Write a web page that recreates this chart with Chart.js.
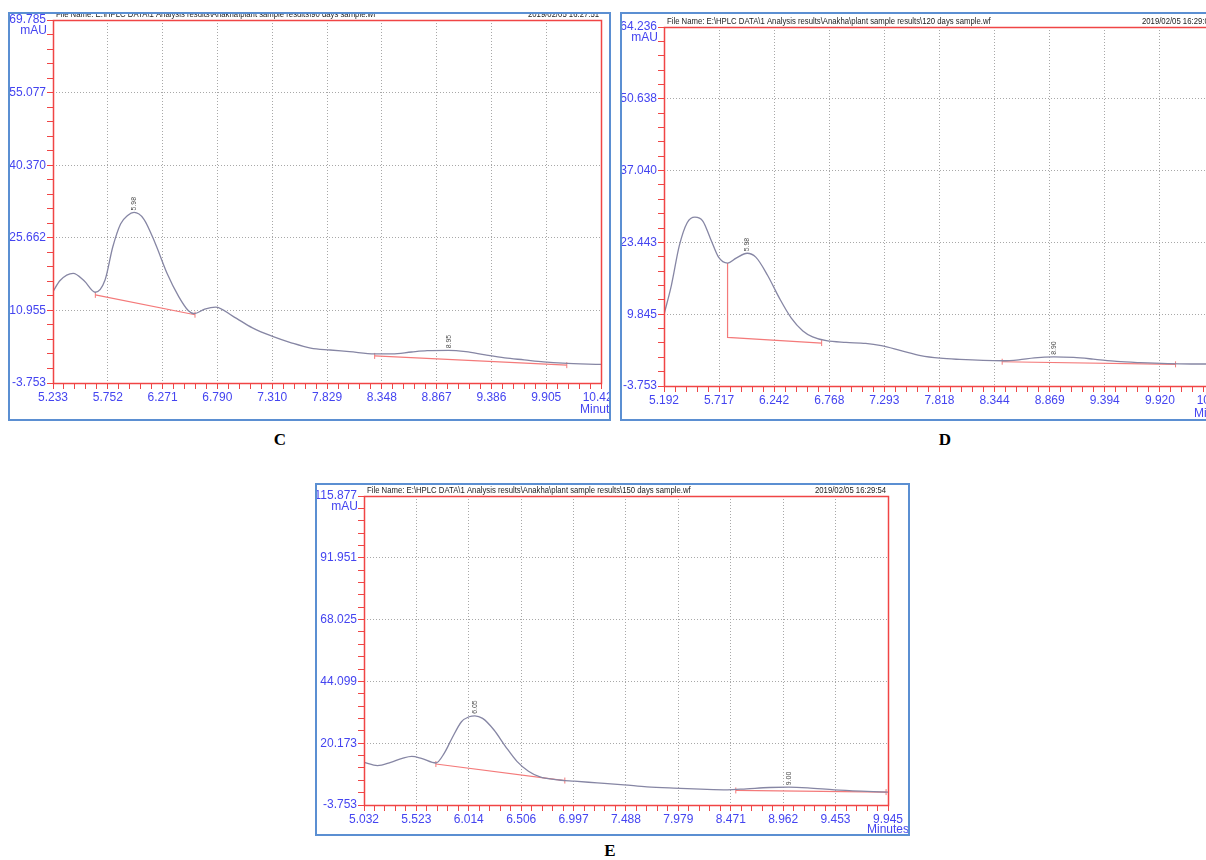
<!DOCTYPE html>
<html lang="en">
<head>
    <meta charset="UTF-8">
    <meta name="viewport" content="width=device-width, initial-scale=1.0">
    <title>HPLC chromatograms C, D, E</title>
    <script src="https://cdn.jsdelivr.net/npm/chart.js@4.4.3/dist/chart.umd.min.js"></script>
    <style>
        html, body {
            margin: 0;
            padding: 0;
            overflow: hidden;
            background: #fff;
        }
        body {
            width: 1206px;
            height: 860px;
            position: relative;
        }
        .frame {
            position: absolute;
            box-sizing: border-box;
            border: 2px solid #5b8fd2;
            overflow: hidden;
            background: #fff;
        }
        .frame canvas {
            position: absolute;
            left: 0;
            top: 0;
        }
        .letter {
            position: absolute;
            font: bold 17px 'Liberation Serif', 'DejaVu Serif', serif;
            color: #000;
            transform: translateX(-50%);
        }
    </style>
</head>
<body>
<div class="frame" style="left:8px;top:12px;width:603px;height:409px">
    <canvas id="chartC" width="640" height="405"></canvas>
</div>
<div class="frame" style="left:620px;top:12px;width:640px;height:409px">
    <canvas id="chartD" width="660" height="405"></canvas>
</div>
<div class="frame" style="left:315px;top:483px;width:595px;height:353px">
    <canvas id="chartE" width="620" height="349"></canvas>
</div>
<div class="letter" style="left:280px;top:430px">C</div>
<div class="letter" style="left:945px;top:430px">D</div>
<div class="letter" style="left:610px;top:841px">E</div>
<script>
    // ---- C : 90 days sample ----
    const xLabelsC = ['5.233', '5.752', '6.271', '6.790', '7.310', '7.829', '8.348', '8.867', '9.386', '9.905', '10.424'];
    const yLabelsC = ['-3.753', '10.955', '25.662', '40.370', '55.077', '69.785'];
    const timesC = [5.233, 5.30, 5.424, 5.53, 5.634, 5.726, 5.799, 5.873, 5.94, 6.001, 6.093, 6.203, 6.314, 6.424, 6.516, 6.571, 6.67, 6.773, 6.939, 7.122, 7.306, 7.490, 7.674, 7.858, 8.041, 8.280, 8.446, 8.630, 8.777, 8.979, 9.144, 9.328, 9.512, 9.696, 9.880, 10.063, 10.424];
    const signalC = [14.77, 17.0, 18.44, 16.9, 14.63, 17.1, 23.79, 28.47, 30.2, 30.81, 29.47, 24.46, 18.44, 13.76, 10.89, 10.29, 11.2, 11.62, 9.75, 7.41, 5.74, 4.40, 3.33, 2.93, 2.60, 2.13, 2.13, 2.53, 2.80, 2.87, 2.60, 1.93, 1.33, 0.93, 0.53, 0.26, 0.0];
    const base1TimesC = [5.634, 6.578];
    const base1ValuesC = [14.10, 10.08];
    const base2TimesC = [8.280, 10.10];
    const base2ValuesC = [1.73, -0.14];
    const peakTimesC = [6.001, 8.979];
    const peakValuesC = [30.81, 2.87];
    const peakLabelsC = ['5.98', '8.95'];

    // ---- D : 120 days sample ----
    const xLabelsD = ['5.192', '5.717', '6.242', '6.768', '7.293', '7.818', '8.344', '8.869', '9.394', '9.920', '10.445'];
    const yLabelsD = ['-3.753', '9.845', '23.443', '37.040', '50.638', '64.236'];
    const timesD = [5.192, 5.263, 5.338, 5.413, 5.487, 5.562, 5.637, 5.712, 5.798, 5.880, 5.985, 6.067, 6.179, 6.292, 6.404, 6.516, 6.609, 6.740, 6.927, 7.114, 7.264, 7.451, 7.638, 7.825, 8.012, 8.236, 8.423, 8.573, 8.723, 8.910, 9.097, 9.284, 9.508, 9.732, 9.994, 10.219, 10.445];
    const signalD = [9.78, 15.37, 22.82, 27.17, 28.22, 27.48, 24.06, 20.65, 19.53, 20.46, 21.39, 20.65, 17.23, 12.89, 9.16, 6.68, 5.56, 4.82, 4.50, 4.32, 3.88, 2.95, 2.02, 1.52, 1.28, 1.09, 1.03, 1.21, 1.59, 1.77, 1.65, 1.34, 0.90, 0.66, 0.47, 0.41, 0.41];
    const base1TimesD = [5.798, 5.798, 6.695];
    const base1ValuesD = [19.53, 5.44, 4.38];
    const base2TimesD = [8.416, 10.069];
    const base2ValuesD = [0.84, 0.35];
    const peakTimesD = [5.985, 8.910];
    const peakValuesD = [21.39, 1.77];
    const peakLabelsD = ['5.98', '8.90'];

    // ---- E : 150 days sample ----
    const xLabelsE = ['5.032', '5.523', '6.014', '6.506', '6.997', '7.488', '7.979', '8.471', '8.962', '9.453', '9.945'];
    const yLabelsE = ['-3.753', '20.173', '44.099', '68.025', '91.951', '115.877'];
    const timesE = [5.032, 5.158, 5.283, 5.391, 5.480, 5.570, 5.706, 5.785, 5.857, 5.946, 6.018, 6.072, 6.144, 6.251, 6.359, 6.466, 6.574, 6.682, 6.825, 7.004, 7.219, 7.470, 7.685, 7.937, 8.188, 8.439, 8.618, 8.833, 9.012, 9.192, 9.443, 9.694, 9.945];
    const signalE = [12.75, 11.47, 12.75, 14.29, 15.06, 14.29, 12.50, 16.34, 22.09, 28.49, 30.41, 30.79, 29.77, 25.29, 18.89, 13.14, 9.30, 7.12, 6.10, 5.46, 4.82, 4.05, 3.28, 2.77, 2.39, 2.13, 2.52, 3.03, 3.16, 2.90, 2.13, 1.62, 1.24];
    const base1TimesE = [5.706, 6.915];
    const base1ValuesE = [12.11, 5.71];
    const base2TimesE = [8.518, 9.927];
    const base2ValuesE = [1.88, 1.24];
    const peakTimesE = [6.072, 9.012];
    const peakValuesE = [30.79, 3.16];
    const peakLabelsE = ['6.05', '9.00'];

    const filePath = 'File Name: E:\\HPLC DATA\\1 Analysis results\\Anakha\\plant sample results\\';

    const RED = '#f04545';
    const BLUE_TEXT = '#4444f0';
    const SANS = "'Liberation Sans', Arial, sans-serif";
    const SQUEEZE = 0.86; // header text in the original is condensed

    const pairs = (xs, ys) => xs.map((x, i) => ({ x: x, y: ys[i] }));

    // major ticks from the labels, 4 minor ticks between each pair
    const buildTicks = (labels) => {
        const vals = labels.map(Number);
        const ticks = [];
        vals.forEach((v, i) => {
            ticks.push({ value: v, major: true, text: labels[i] });
            if (i < vals.length - 1) {
                const step = (vals[i + 1] - v) / 5;
                for (let k = 1; k < 5; k++) {
                    ticks.push({ value: v + k * step, major: false, text: '' });
                }
            }
        });
        return ticks;
    };

    const axis = (labels, fixSize) => ({
        type: 'linear',
        min: Number(labels[0]),
        max: Number(labels[labels.length - 1]),
        afterBuildTicks: (scale) => { scale.ticks = buildTicks(labels); },
        afterFit: (s) => {
            fixSize(s);
            // let labels hang over the plot edges like the original
            s.paddingTop = 0; s.paddingBottom = 0; s.paddingLeft = 0; s.paddingRight = 0;
        },
        border: { display: false, dash: [1, 2] },
        grid: {
            color: (ctx) => {
                const n = ctx.scale.ticks.length - 1;
                return ctx.tick && ctx.tick.major && ctx.index > 0 && ctx.index < n ? '#a8a8a8' : 'rgba(0,0,0,0)';
            },
            tickColor: RED,
            tickLength: 6,
            tickBorderDash: [],
            lineWidth: 1
        },
        ticks: {
            autoSkip: false,
            maxRotation: 0,
            minRotation: 0,
            padding: 1,
            color: BLUE_TEXT,
            font: { family: SANS, size: 12 },
            callback: (v, i, ticks) => ticks[i].text
        }
    });

    const decor = {
        id: 'decor',
        afterDraw(chart, args, o) {
            const { ctx, chartArea: a, scales: { x, y } } = chart;
            ctx.save();
            // red plot frame
            ctx.strokeStyle = RED;
            ctx.lineWidth = 1.5;
            ctx.strokeRect(Math.round(a.left) + 0.5, Math.round(a.top) + 0.5,
                Math.round(a.right - a.left), Math.round(a.bottom - a.top));

            // header, condensed
            ctx.save();
            ctx.scale(SQUEEZE, 1);
            ctx.fillStyle = '#222';
            ctx.font = '9px ' + SANS;
            ctx.textBaseline = 'bottom';
            ctx.textAlign = 'left';
            ctx.fillText(o.file, (a.left + 3) / SQUEEZE, a.top - 1);
            ctx.textAlign = 'right';
            ctx.fillText(o.date, (a.right - 2) / SQUEEZE, a.top - 1);
            ctx.restore();

            // units
            ctx.fillStyle = BLUE_TEXT;
            ctx.font = '12px ' + SANS;
            ctx.textAlign = 'right';
            ctx.textBaseline = 'middle';
            ctx.fillText('mAU', a.left - 6, a.top + 11);
            ctx.textAlign = 'center';
            ctx.fillText('Minutes', a.right, a.bottom + o.minOffset);

            // peak retention times, rotated
            ctx.fillStyle = '#4a4a4a';
            ctx.font = '8px ' + SANS;
            o.peakTimes.forEach((t, i) => {
                ctx.save();
                ctx.translate(x.getPixelForValue(t), y.getPixelForValue(o.peakValues[i]) - 2);
                ctx.rotate(-Math.PI / 2);
                ctx.scale(SQUEEZE, 1);
                ctx.textAlign = 'left';
                ctx.textBaseline = 'middle';
                ctx.fillText(o.peakLabels[i], 0, 0);
                ctx.restore();
            });
            ctx.restore();
        }
    };

    const baseline = (xs, ys, radii) => ({
        data: pairs(xs, ys),
        borderColor: '#f47a7a',
        borderWidth: 1.2,
        pointStyle: 'line',
        rotation: 90,
        pointRadius: radii,
        pointBorderColor: '#f47a7a',
        pointBorderWidth: 1,
        tension: 0
    });

    const createChart = (id, p) => {
        const ctx = document.getElementById(id).getContext('2d');
        return new Chart(ctx, {
            type: 'line',
            data: {
                datasets: [
                    {
                        data: pairs(p.times, p.signal),
                        borderColor: '#8686a4',
                        borderWidth: 1.3,
                        pointRadius: 0,
                        cubicInterpolationMode: 'monotone'
                    },
                    baseline(p.b1x, p.b1y, p.b1r),
                    baseline(p.b2x, p.b2y, 3)
                ]
            },
            options: {
                responsive: false,
                animation: false,
                layout: { padding: { top: p.padTop, right: p.padRight, left: 0, bottom: 0 } },
                plugins: {
                    legend: { display: false },
                    tooltip: { enabled: false },
                    decor: {
                        file: p.file, date: p.date, minOffset: p.minOffset,
                        peakTimes: p.peakTimes, peakValues: p.peakValues, peakLabels: p.peakLabels
                    }
                },
                scales: {
                    x: axis(p.xLabels, (s) => { s.height = p.xHeight; }),
                    y: axis(p.yLabels, (s) => { s.width = p.yWidth; })
                }
            },
            plugins: [decor]
        });
    };

    createChart('chartC', {
        times: timesC, signal: signalC, xLabels: xLabelsC, yLabels: yLabelsC,
        b1x: base1TimesC, b1y: base1ValuesC, b1r: 3, b2x: base2TimesC, b2y: base2ValuesC,
        peakTimes: peakTimesC, peakValues: peakValuesC, peakLabels: peakLabelsC,
        file: filePath + '90 days sample.wf', date: '2019/02/05 16:27:51',
        padTop: 6, padRight: 49, xHeight: 36, yWidth: 43, minOffset: 27
    });

    createChart('chartD', {
        times: timesD, signal: signalD, xLabels: xLabelsD, yLabels: yLabelsD,
        b1x: base1TimesD, b1y: base1ValuesD, b1r: [0, 0, 3], b2x: base2TimesD, b2y: base2ValuesD,
        peakTimes: peakTimesD, peakValues: peakValuesD, peakLabels: peakLabelsD,
        file: filePath + '120 days sample.wf', date: '2019/02/05 16:29:00',
        padTop: 13, padRight: 67, xHeight: 33, yWidth: 42, minOffset: 28
    });

    createChart('chartE', {
        times: timesE, signal: signalE, xLabels: xLabelsE, yLabels: yLabelsE,
        b1x: base1TimesE, b1y: base1ValuesE, b1r: 3, b2x: base2TimesE, b2y: base2ValuesE,
        peakTimes: peakTimesE, peakValues: peakValuesE, peakLabels: peakLabelsE,
        file: filePath + '150 days sample.wf', date: '2019/02/05 16:29:54',
        padTop: 11, padRight: 49, xHeight: 29, yWidth: 47, minOffset: 25
    });
</script>
</body>
</html>
